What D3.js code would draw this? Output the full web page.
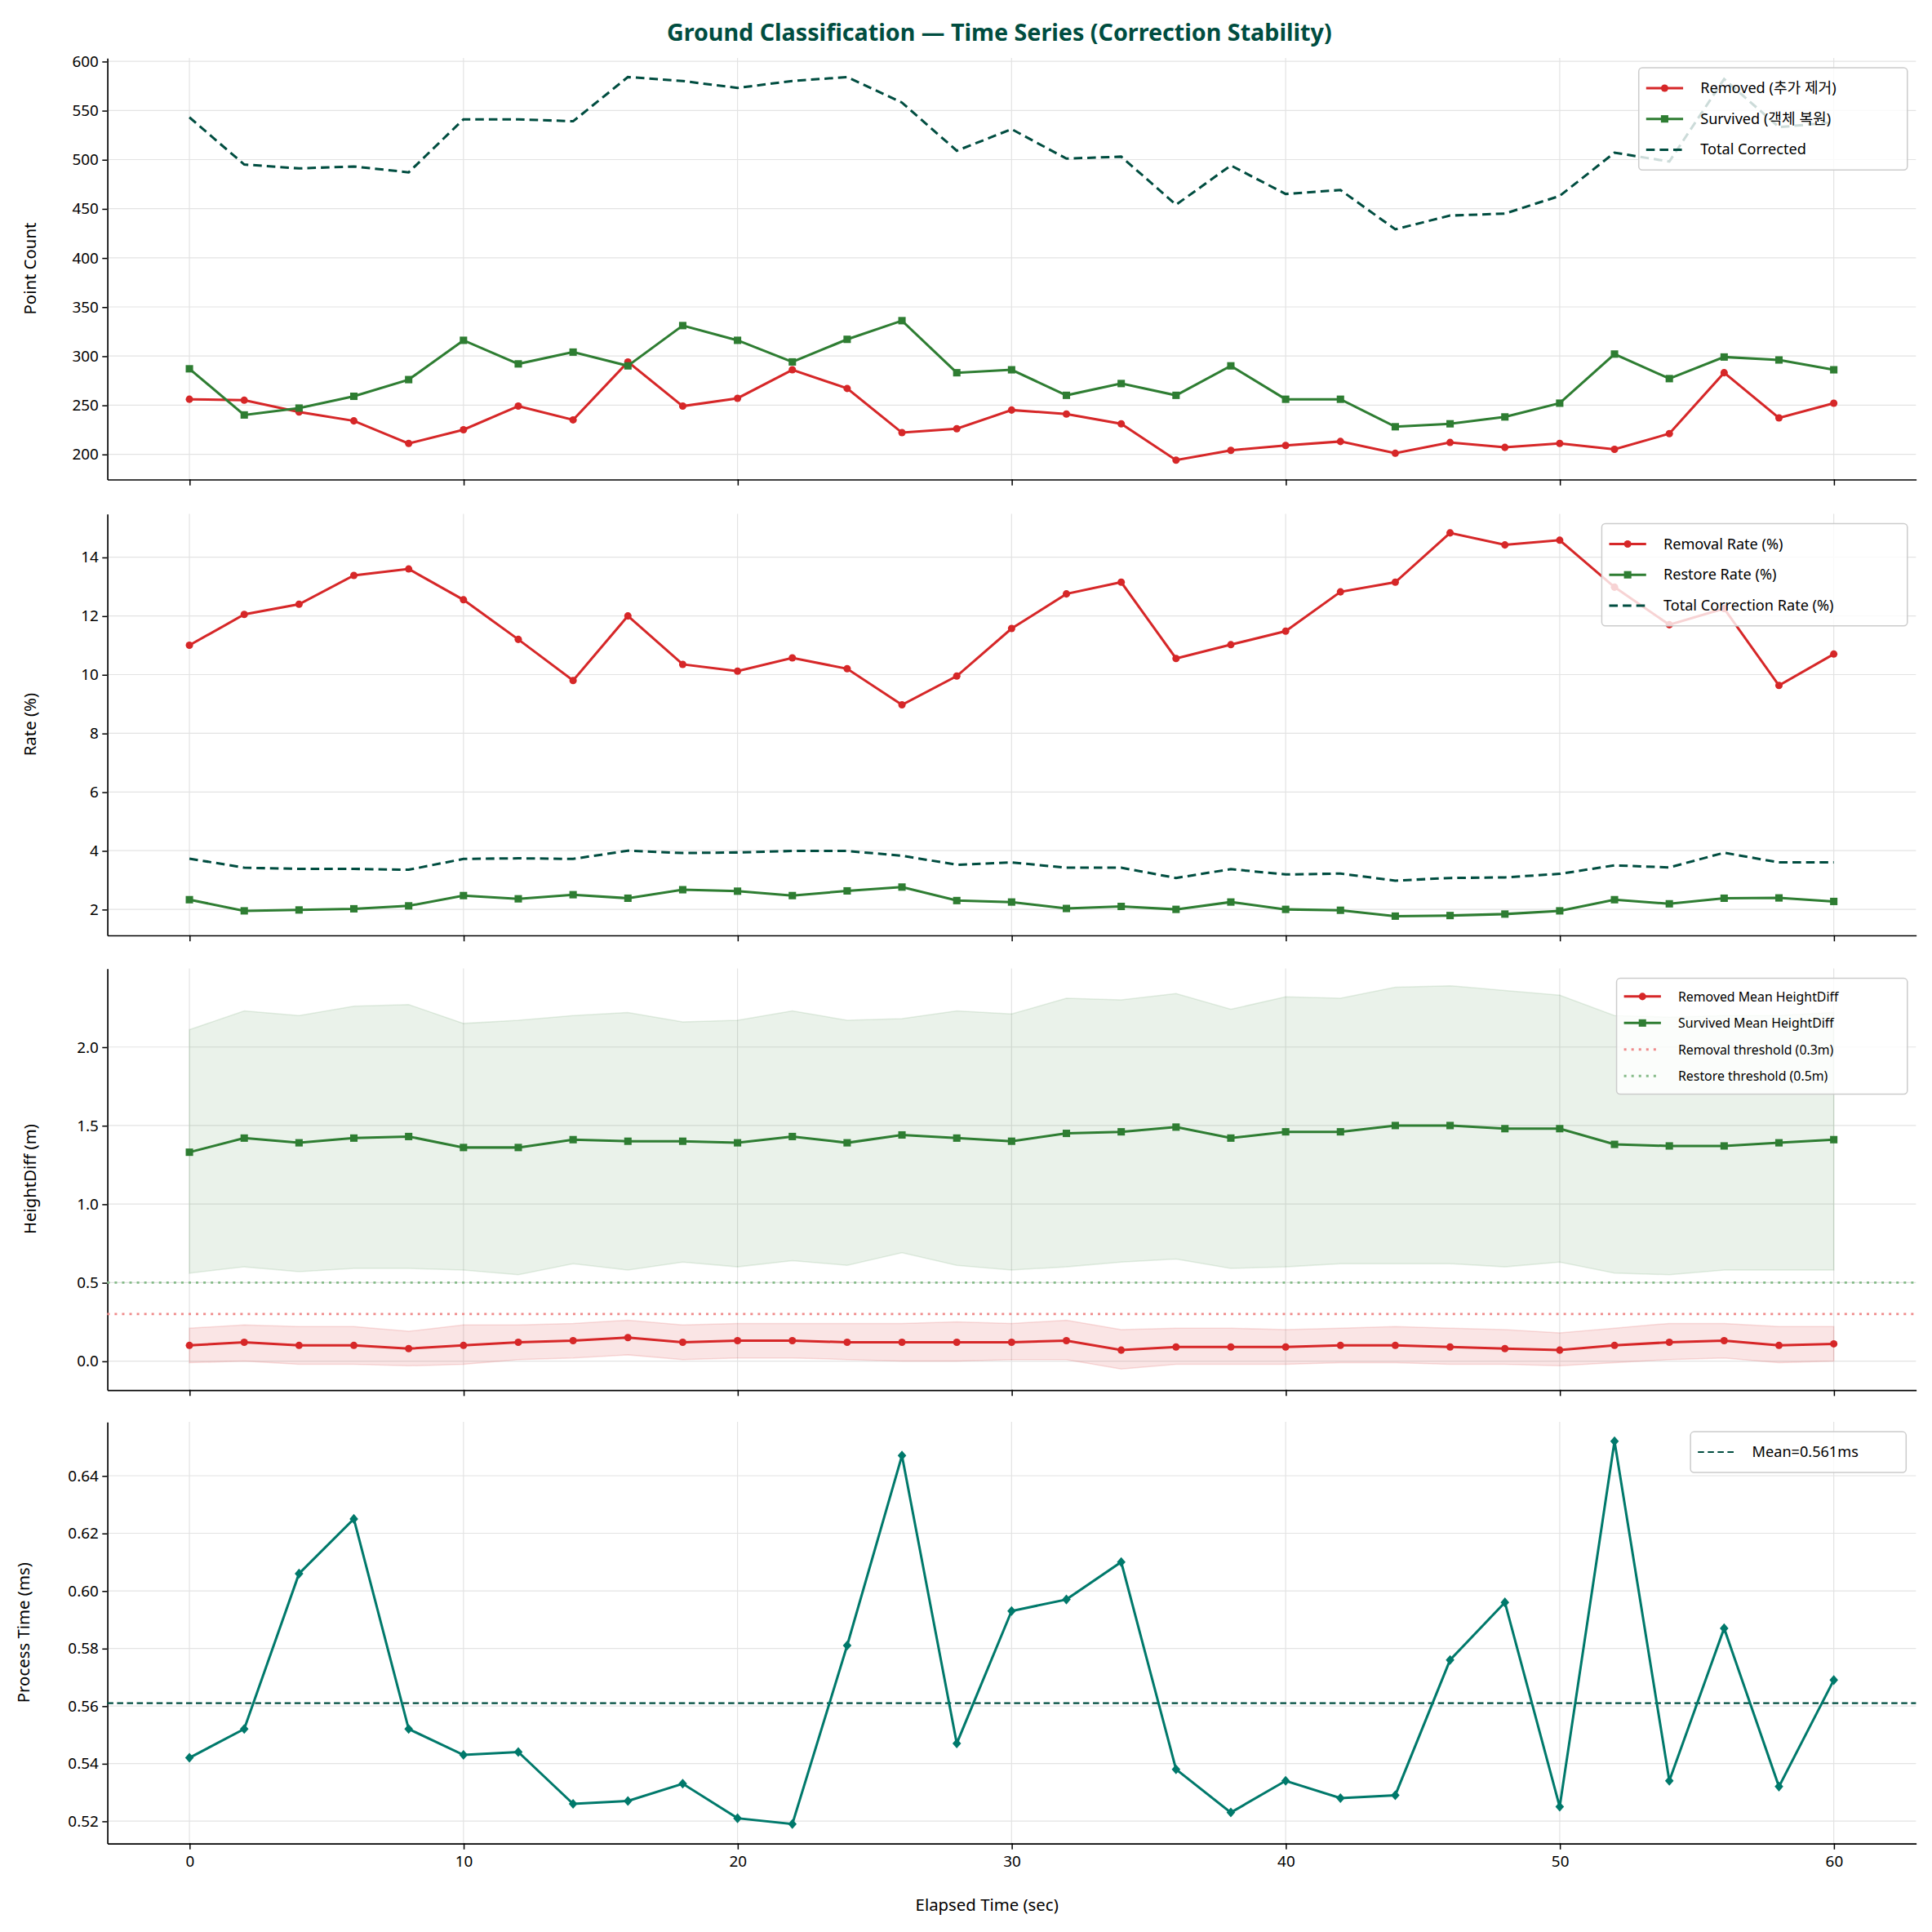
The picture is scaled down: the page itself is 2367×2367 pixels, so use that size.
<!DOCTYPE html>
<html><head><meta charset="utf-8">
<script src="https://cdn.jsdelivr.net/npm/d3@7"></script>
<style>body{margin:0;background:#fff}svg{font-family:"Noto Sans","Noto Sans CJK KR",sans-serif}</style>
</head><body><svg id="c" width="2367" height="2367" viewBox="0 0 1568 1568"></svg>
<script>
const times = d3.range(0, 61, 2);
const removed = [256,255,243,234,211,225,249,235,294,249,257,286,267,222,226,245,241,231,194,204,209,213,201,212,207,211,205,221,283,237,252];
const survived = [287,240,247,259,276,316,292,304,290,331,316,294,317,336,283,286,260,272,260,290,256,256,228,231,238,252,302,277,299,296,286];
const totalCorrected = [543,495,491,493,487,541,541,539,584,580,573,580,584,558,509,531,501,503,454,494,465,469,429,443,445,463,507,498,582,533,538];
const removalRate = [11.0,12.05,12.4,13.38,13.6,12.55,11.2,9.8,12.0,10.35,10.12,10.57,10.2,8.97,9.95,11.57,12.75,13.15,10.55,11.02,11.48,12.82,13.15,14.83,14.42,14.58,12.98,11.7,12.25,9.63,10.7];
const restoreRate = [2.33,1.95,1.98,2.02,2.12,2.47,2.36,2.5,2.38,2.67,2.62,2.47,2.63,2.76,2.3,2.25,2.03,2.1,2.0,2.25,2.0,1.97,1.77,1.79,1.84,1.95,2.33,2.19,2.38,2.39,2.27];
const totalRate = [3.73,3.42,3.38,3.38,3.35,3.72,3.74,3.72,4.0,3.92,3.94,3.99,3.99,3.83,3.52,3.6,3.42,3.42,3.07,3.37,3.19,3.22,2.98,3.07,3.09,3.21,3.5,3.43,3.93,3.6,3.6];
const survMean = [1.33,1.42,1.39,1.42,1.43,1.36,1.36,1.41,1.40,1.40,1.39,1.43,1.39,1.44,1.42,1.40,1.45,1.46,1.49,1.42,1.46,1.46,1.50,1.50,1.48,1.48,1.38,1.37,1.37,1.39,1.41];
const survUpper = [2.11,2.23,2.20,2.26,2.27,2.15,2.17,2.20,2.22,2.16,2.17,2.23,2.17,2.18,2.23,2.21,2.31,2.30,2.34,2.24,2.32,2.31,2.38,2.39,2.36,2.33,2.20,2.19,2.20,2.20,2.22];
const survLower = [0.56,0.60,0.57,0.59,0.59,0.58,0.55,0.62,0.58,0.63,0.60,0.64,0.61,0.69,0.61,0.58,0.60,0.63,0.65,0.59,0.60,0.62,0.62,0.62,0.60,0.63,0.56,0.55,0.58,0.58,0.58];
const remMean = [0.10,0.12,0.10,0.10,0.08,0.10,0.12,0.13,0.15,0.12,0.13,0.13,0.12,0.12,0.12,0.12,0.13,0.07,0.09,0.09,0.09,0.10,0.10,0.09,0.08,0.07,0.10,0.12,0.13,0.10,0.11];
const remUpper = [0.21,0.23,0.22,0.22,0.19,0.23,0.23,0.24,0.26,0.23,0.24,0.24,0.24,0.24,0.25,0.24,0.26,0.20,0.21,0.21,0.20,0.21,0.22,0.21,0.20,0.18,0.21,0.24,0.24,0.22,0.22];
const remLower = [-0.01,0.00,-0.02,-0.02,-0.03,-0.02,0.01,0.02,0.04,0.01,0.02,0.02,0.01,0.00,0.00,0.01,0.01,-0.05,-0.02,-0.02,-0.02,-0.01,-0.01,-0.02,-0.02,-0.03,-0.01,0.01,0.02,-0.01,0.00];
const procTime = [0.542,0.552,0.606,0.625,0.552,0.543,0.544,0.526,0.527,0.533,0.521,0.519,0.581,0.647,0.547,0.593,0.597,0.610,0.538,0.523,0.534,0.528,0.529,0.576,0.596,0.525,0.652,0.534,0.587,0.532,0.569];
const meanProc = 0.561;
const removalThreshold = 0.3, restoreThreshold = 0.5;

const RED="#d62728", GREEN="#2e7d32", DARK="#004d40", TEAL="#00796b";
const svg = d3.select("#c");
const L=87, R=1555, H=342, tops=[47,417,786,1154];
const x = d3.scaleLinear().domain([-3,63]).range([L,R]);

svg.append("text").attr("x",(L+R)/2-10).attr("y",33).attr("text-anchor","middle")
  .attr("font-size",19).attr("font-weight","bold").attr("fill",DARK)
  .text("Ground Classification — Time Series (Correction Stability)");

function panel(i, domain, ticks, fmt, ylabel){
  const t=tops[i];
  const y=d3.scaleLinear().domain(domain).range([t+H,t]);
  const g=svg.append("g");
  g.selectAll(".gx").data([0,10,20,30,40,50,60]).enter().append("line")
    .attr("x1",d=>x(d)).attr("x2",d=>x(d)).attr("y1",t).attr("y2",t+H).attr("stroke","#e3e3e3").attr("stroke-width",0.8);
  g.selectAll(".gy").data(ticks).enter().append("line")
    .attr("x1",L).attr("x2",R).attr("y1",d=>y(d)).attr("y2",d=>y(d)).attr("stroke","#e3e3e3").attr("stroke-width",0.8);
  const ya=g.append("g").attr("transform",`translate(${L},0)`).call(d3.axisLeft(y).tickValues(ticks).tickFormat(fmt).tickSize(4).tickSizeOuter(0).tickPadding(3));
  const xa=g.append("g").attr("transform",`translate(0,${t+H})`).call(d3.axisBottom(x).tickValues([0,10,20,30,40,50,60]).tickSize(5).tickSizeOuter(0).tickPadding(5).tickFormat(i===3?d3.format("d"):""));
  [ya,xa].forEach(a=>{a.select(".domain").attr("stroke","#000").attr("stroke-width",1.1);a.selectAll("text").attr("font-size",12.5).attr("fill","#000").attr("font-family","'Noto Sans',sans-serif");a.selectAll("line").attr("stroke","#000");});
  svg.append("text").attr("transform",`translate(${i===3?24:29},${t+H/2}) rotate(-90)`).attr("text-anchor","middle").attr("font-size",13.5).text(ylabel);
  return {g,y,t};
}
function line(p, data, color, opts={}){
  const ln=d3.line().x((d,i)=>x(times[i])).y(d=>p.y(d));
  p.g.append("path").datum(data).attr("d",ln).attr("fill","none").attr("stroke",color)
    .attr("stroke-width",opts.w||2).attr("stroke-dasharray",opts.dash||null);
  if(opts.marker==="circle") p.g.selectAll(null).data(data).enter().append("circle").attr("cx",(d,i)=>x(times[i])).attr("cy",d=>p.y(d)).attr("r",3).attr("fill",color);
  if(opts.marker==="square") p.g.selectAll(null).data(data).enter().append("rect").attr("x",(d,i)=>x(times[i])-3).attr("y",d=>p.y(d)-3).attr("width",6).attr("height",6).attr("fill",color);
  if(opts.marker==="diamond") p.g.selectAll(null).data(data).enter().append("path").attr("d","M0,-4L3.5,0L0,4L-3.5,0Z").attr("transform",(d,i)=>`translate(${x(times[i])},${p.y(d)})`).attr("fill",color);
}
function band(p, lo, hi, color, op){
  const a=d3.area().x((d,i)=>x(times[i])).y0((d,i)=>p.y(lo[i])).y1(d=>p.y(d));
  p.g.append("path").datum(hi).attr("d",a).attr("fill",color).attr("fill-opacity",op).attr("stroke",color).attr("stroke-opacity",op*1.2).attr("stroke-width",1);
}
function legend(p, items, x0, w, fs, rowH){
  const y0=p.t+8;
  const g=svg.append("g");
  g.append("rect").attr("x",x0).attr("y",y0).attr("width",w).attr("height",items.length*rowH+8).attr("rx",3)
    .attr("fill","#fff").attr("fill-opacity",0.8).attr("stroke","#ccc");
  items.forEach((it,k)=>{
    const cy=y0+4+rowH*(k+0.5);
    g.append("line").attr("x1",x0+6).attr("x2",x0+36).attr("y1",cy).attr("y2",cy).attr("stroke",it.c).attr("stroke-width",it.w||2).attr("stroke-dasharray",it.dash||null);
    if(it.m==="circle") g.append("circle").attr("cx",x0+21).attr("cy",cy).attr("r",3).attr("fill",it.c);
    if(it.m==="square") g.append("rect").attr("x",x0+18).attr("y",cy-3).attr("width",6).attr("height",6).attr("fill",it.c);
    g.append("text").attr("x",x0+50).attr("y",cy+4).attr("font-size",fs).text(it.t);
  });
}

const p1=panel(0,[174.5,603.5],[200,250,300,350,400,450,500,550,600],d3.format("d"),"Point Count");
line(p1,removed,RED,{marker:"circle"});
line(p1,survived,GREEN,{marker:"square"});
line(p1,totalCorrected,DARK,{dash:"7,4"});
legend(p1,[{t:"Removed (추가 제거)",c:RED,m:"circle"},{t:"Survived (객체 복원)",c:GREEN,m:"square"},{t:"Total Corrected",c:DARK,dash:"7,4"}],1330,218,12,25);

const p2=panel(1,[1.12,15.48],[2,4,6,8,10,12,14],d3.format("d"),"Rate (%)");
line(p2,removalRate,RED,{marker:"circle"});
line(p2,restoreRate,GREEN,{marker:"square"});
line(p2,totalRate,DARK,{dash:"7,4"});
legend(p2,[{t:"Removal Rate (%)",c:RED,m:"circle"},{t:"Restore Rate (%)",c:GREEN,m:"square"},{t:"Total Correction Rate (%)",c:DARK,dash:"7,4"}],1300,248,12,25);

const p3=panel(2,[-0.183,2.5],[0,0.5,1,1.5,2],d3.format(".1f"),"HeightDiff (m)");
band(p3,survLower,survUpper,GREEN,0.1);
band(p3,remLower,remUpper,RED,0.12);
[[removalThreshold,"#ef8a8a"],[restoreThreshold,"#85bb88"]].forEach(([v,c])=>{
  p3.g.append("line").attr("x1",L).attr("x2",R).attr("y1",p3.y(v)).attr("y2",p3.y(v)).attr("stroke",c).attr("stroke-width",1.8).attr("stroke-dasharray","2,4");
});
line(p3,remMean,RED,{marker:"circle"});
line(p3,survMean,GREEN,{marker:"square"});
legend(p3,[{t:"Removed Mean HeightDiff",c:RED,m:"circle"},{t:"Survived Mean HeightDiff",c:GREEN,m:"square"},{t:"Removal threshold (0.3m)",c:"#ef8a8a",dash:"2,4"},{t:"Restore threshold (0.5m)",c:"#85bb88",dash:"2,4"}],1312,236,10.5,21.5);

const p4=panel(3,[0.5123,0.6587],[0.52,0.54,0.56,0.58,0.60,0.62,0.64],d3.format(".2f"),"Process Time (ms)");
p4.g.append("line").attr("x1",L).attr("x2",R).attr("y1",p4.y(meanProc)).attr("y2",p4.y(meanProc)).attr("stroke",DARK).attr("stroke-width",1.4).attr("stroke-dasharray","5,3");
line(p4,procTime,TEAL,{marker:"diamond"});
legend(p4,[{t:"Mean="+meanProc.toFixed(3)+"ms",c:DARK,dash:"5,3",w:1.4}],1372,175,12,25);
svg.append("text").attr("x",(L+R)/2-20).attr("y",1551).attr("text-anchor","middle").attr("font-size",13.5).text("Elapsed Time (sec)");
</script></body></html>
